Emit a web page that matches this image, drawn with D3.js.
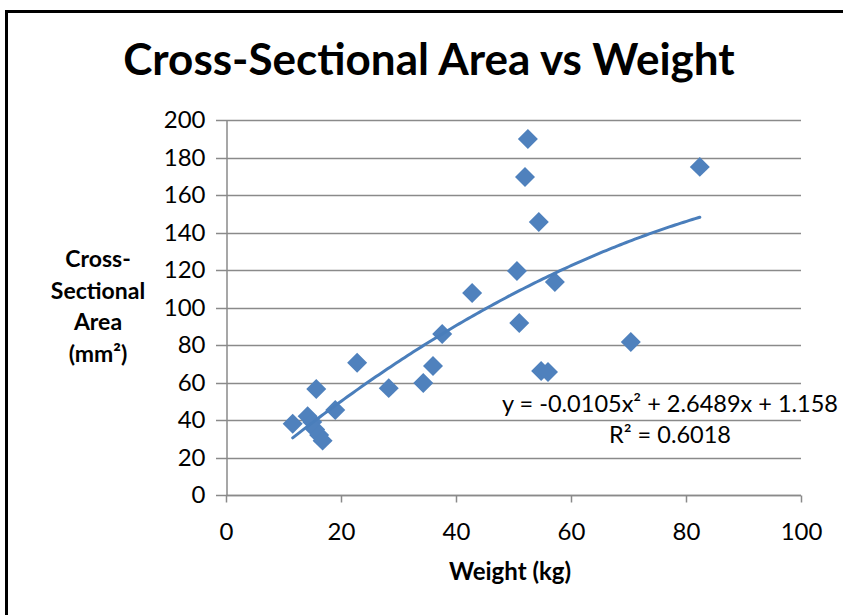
<!DOCTYPE html>
<html>
<head>
<meta charset="utf-8">
<script src="https://cdn.jsdelivr.net/npm/d3@7"></script>
<style>
  body { margin: 0; background: #fff; }
  svg { display: block; font-family: Lato, "Open Sans", sans-serif; }
</style>
</head>
<body>
<div id="chart"></div>
<script>
// measured values (weight kg, area mm²)
var weights = [11.6, 14.2, 15.0, 15.5, 16.2, 16.8, 15.7, 19.0, 22.8, 28.3, 34.3, 36.0, 37.6, 42.8,
               50.6, 51.0, 52.5, 52.0, 54.4, 57.2, 54.8, 56.0, 70.4, 82.4];
var areas   = [38, 42, 39, 35, 32, 29, 56.5, 45.3, 70.5, 57, 59.7, 68.8, 85.9, 107.7,
               119.5, 91.7, 189.9, 169.6, 145.6, 113.6, 66.1, 65.6, 81.6, 175];
// polynomial trendline as printed on the chart
var trendCoef = [-0.0105, 2.6489, 1.158];
var xTicks = [0, 20, 40, 60, 80, 100];
var yTicks = [0, 20, 40, 60, 80, 100, 120, 140, 160, 180, 200];

var width = 843, height = 615;
var margin = {left: 226, right: 42, top: 120, bottom: 120};

var svg = d3.select("#chart").append("svg")
    .attr("width", width)
    .attr("height", height);

// chart frame (only top & left edge show in the crop)
svg.append("rect")
    .attr("x", 6.5).attr("y", 11.5)
    .attr("width", 850).attr("height", 620)
    .attr("fill", "none")
    .attr("stroke", "#000")
    .attr("stroke-width", 3);

var x = d3.scaleLinear().domain([0, 100]).range([margin.left, width - margin.right]);
var y = d3.scaleLinear().domain([0, 200]).range([height - margin.bottom, margin.top]);

// gridlines
svg.append("g").selectAll("line")
    .data(yTicks)
  .enter().append("line")
    .attr("x1", x(0) - 10).attr("x2", x(100))
    .attr("y1", function(d) { return Math.round(y(d)) + 0.5; })
    .attr("y2", function(d) { return Math.round(y(d)) + 0.5; })
    .attr("stroke", "#8a8a8a")
    .attr("stroke-width", 1.5);

// axes
var xAxis = svg.append("g")
    .attr("transform", "translate(0," + (Math.round(y(0)) + 0.5) + ")")
    .call(d3.axisBottom(x).tickValues(xTicks).tickSize(7).tickPadding(20));
var yAxis = svg.append("g")
    .attr("transform", "translate(" + (Math.round(x(0)) + 0.5) + ",0)")
    .call(d3.axisLeft(y).tickValues(yTicks).tickSize(0).tickPadding(21));

[xAxis, yAxis].forEach(function(a) {
  a.select(".domain").attr("stroke", "#8a8a8a").attr("stroke-width", 1.5);
  a.selectAll(".tick line").attr("stroke", "#8a8a8a").attr("stroke-width", 1.5);
  a.selectAll(".tick text")
      .attr("fill", "#000")
      .style("font-size", "24px")
      .style("font-family", "Lato, sans-serif");
});
xAxis.select(".domain").attr("d", "M" + x(0) + ",0H" + x(100));

// trendline
var tr = d3.range(d3.min(weights), d3.max(weights) + 0.01, 0.5);
tr.push(d3.max(weights));
var line = d3.line()
    .x(function(d) { return x(d); })
    .y(function(d) { return y(trendCoef[0] * d * d + trendCoef[1] * d + trendCoef[2]); });

// points
var pts = weights.map(function(w, i) { return [w, areas[i]]; });
svg.append("g").selectAll("path")
    .data(pts)
  .enter().append("path")
    .attr("d", d3.symbol().type(d3.symbolSquare).size(200))
    .attr("transform", function(d) { return "translate(" + x(d[0]) + "," + y(d[1]) + ") rotate(45)"; })
    .attr("fill", "#4F81BD");

svg.append("path")
    .datum(tr)
    .attr("d", line)
    .attr("fill", "none")
    .attr("stroke", "#4A7EBB")
    .attr("stroke-width", 3)
    .attr("stroke-linecap", "round");

// title
svg.append("text")
    .attr("x", 429).attr("y", 75)
    .attr("text-anchor", "middle")
    .style("font-size", "44px")
    .style("font-weight", "bold")
    .text("Cross-Sectional Area vs Weight");

// axis titles
svg.append("text")
    .attr("x", 510).attr("y", 580)
    .attr("text-anchor", "middle")
    .style("font-size", "24px")
    .style("font-weight", "bold")
    .text("Weight (kg)");

var yLab = svg.append("text")
    .attr("text-anchor", "middle")
    .style("font-size", "23px")
    .style("font-weight", "bold");
["Cross-", "Sectional", "Area", "(mm\u00B2)"].forEach(function(s, i) {
  yLab.append("tspan").attr("x", 98).attr("y", 267 + i * 31.5).text(s);
});

// equation label
var eq = svg.append("text")
    .attr("text-anchor", "middle")
    .style("font-size", "23.5px");
eq.append("tspan").attr("x", 670).attr("y", 412)
    .text("y = " + trendCoef[0] + "x\u00B2 + " + trendCoef[1] + "x + " + trendCoef[2]);
eq.append("tspan").attr("x", 670).attr("y", 443)
    .text("R\u00B2 = 0.6018");
</script>
</body>
</html>
